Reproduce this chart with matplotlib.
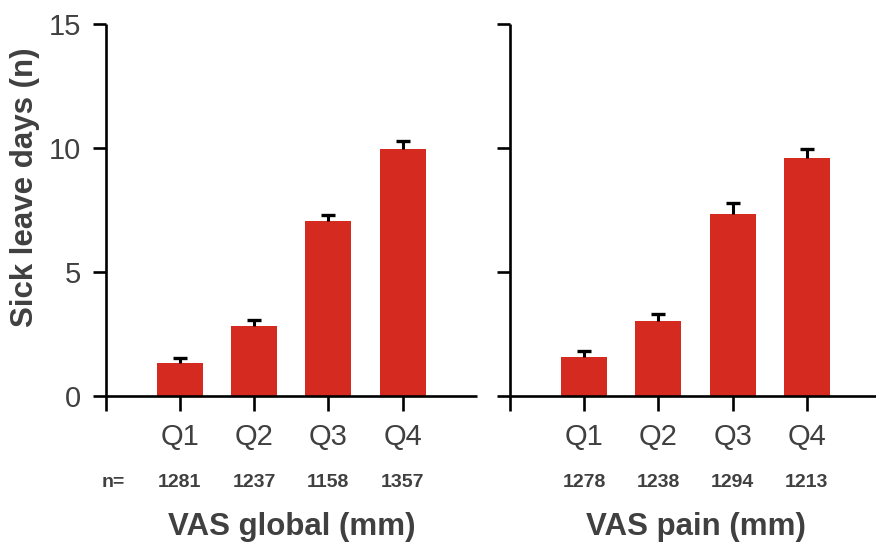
import matplotlib
matplotlib.use("Agg")
import matplotlib.pyplot as plt

plt.rcParams["font.family"] = ["Liberation Sans", "DejaVu Sans"]

quartiles = ["Q1", "Q2", "Q3", "Q4"]

global_mean = [1.30, 2.82, 7.07, 9.96]
global_err = [0.23, 0.24, 0.24, 0.30]
global_n = [1281, 1237, 1158, 1357]

pain_mean = [1.58, 3.03, 7.32, 9.59]
pain_err = [0.21, 0.27, 0.45, 0.36]
pain_n = [1278, 1238, 1294, 1213]

bar_color = "#d42a20"
text_color = "#404040"

W, H = 876, 545
fig = plt.figure(figsize=(W / 100, H / 100), dpi=100)

ax1 = fig.add_axes([105.5 / W, 1 - 395.7 / H, 371.5 / W, (395.7 - 24) / H])
ax2 = fig.add_axes([510 / W, 1 - 395.7 / H, 366 / W, (395.7 - 24) / H])


def draw_panel(ax, means, errs, counts, title, show_y):
    x = [i + 1 for i in range(len(means))]
    tops = [m + e for m, e in zip(means, errs)]
    ax.bar(x, means, width=0.62, color=bar_color, zorder=2)
    # upper half of the error bar only, cap on top
    ax.vlines(x, means, tops, color="black", linewidth=2.2, zorder=3)
    ax.plot(x, tops, ls="none", marker="_", markersize=9.5,
            markeredgewidth=2.4, color="black", zorder=3)
    ax.set_ylim(0, 15)
    ax.set_yticks([0, 5, 10, 15])
    ax.set_xticks([0] + x)
    ax.set_xticklabels([""] + quartiles)
    for side in ("top", "right"):
        ax.spines[side].set_visible(False)
    for side in ("left", "bottom"):
        ax.spines[side].set_linewidth(1.9)
        ax.spines[side].set_capstyle("butt")
    ax.tick_params(axis="x", length=10.5, width=1.9, pad=9,
                   labelsize=21, labelcolor=text_color)
    ax.tick_params(axis="y", length=9.5, width=1.9, pad=8,
                   labelsize=21, labelcolor=text_color)
    if not show_y:
        ax.set_yticklabels([])
    for xi, n in zip(x, counts):
        ax.text(xi, -3.52, str(n), ha="center", va="center", fontsize=14,
                fontweight="bold", color=text_color, clip_on=False)
    ax.text(2.5, -5.3, title, ha="center", va="center", fontsize=22.5,
            fontweight="bold", color=text_color, clip_on=False)


draw_panel(ax1, global_mean, global_err, global_n, "VAS global (mm)", True)
ax1.set_xlim(0, 5)
ax1.text(0.1, -3.52, "n=", ha="center", va="center", fontsize=14,
         fontweight="bold", color=text_color, clip_on=False)

draw_panel(ax2, pain_mean, pain_err, pain_n, "VAS pain (mm)", False)
ax2.set_xlim(0, 366 / 74.2)

fig.text(25 / W, 1 - 187.5 / H, "Sick leave days (n)", rotation=90,
         ha="center", va="center", fontsize=22.5, fontweight="bold",
         color=text_color)

fig.savefig("out.png", dpi=100)
